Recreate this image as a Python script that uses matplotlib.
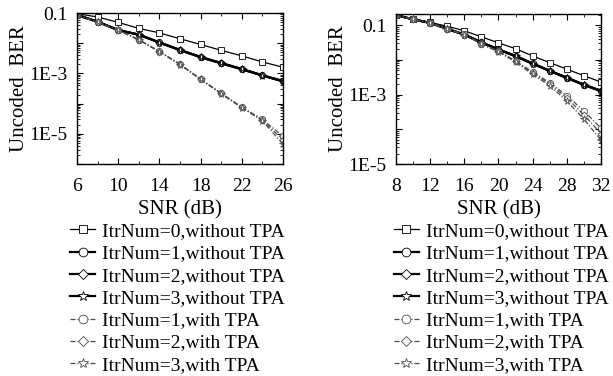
import numpy as np
import matplotlib
matplotlib.use("Agg")
import matplotlib.pyplot as plt
from matplotlib.ticker import LogLocator, FixedLocator, FuncFormatter, NullFormatter

plt.rcParams['font.family'] = ['Liberation Serif', 'DejaVu Serif']
plt.rcParams['font.size'] = 14

labels = ["ItrNum=0,without TPA", "ItrNum=1,without TPA", "ItrNum=2,without TPA",
          "ItrNum=3,without TPA", "ItrNum=1,with TPA", "ItrNum=2,with TPA",
          "ItrNum=3,with TPA"]

# left panel
snr_a = [6, 8, 10, 12, 14, 16, 18, 20, 22, 24, 26]
a_itr0 = [9.5e-2, 7.4e-2, 4.9e-2, 3.1e-2, 2.2e-2, 1.4e-2, 9.1e-3, 5.8e-3, 3.8e-3, 2.4e-3, 1.6e-3]
a_itr1 = [8.7e-2, 5.2e-2, 2.75e-2, 1.9e-2, 1.07e-2, 6.0e-3, 3.5e-3, 2.2e-3, 1.4e-3, 8.7e-4, 5.6e-4]
a_itr2 = [8.6e-2, 5.1e-2, 2.7e-2, 1.95e-2, 1.05e-2, 5.9e-3, 3.5e-3, 2.2e-3, 1.4e-3, 8.6e-4, 5.5e-4]
a_itr3 = [8.6e-2, 5.1e-2, 2.7e-2, 1.9e-2, 1.05e-2, 5.9e-3, 3.4e-3, 2.15e-3, 1.35e-3, 8.5e-4, 5.4e-4]
a_tpa1 = [8.7e-2, 5.0e-2, 2.75e-2, 1.3e-2, 5.4e-3, 2.0e-3, 6.5e-4, 2.2e-4, 7.6e-5, 3.0e-5, 8.3e-6]
a_tpa2 = [8.6e-2, 5.0e-2, 2.7e-2, 1.3e-2, 5.3e-3, 2.0e-3, 6.4e-4, 2.2e-4, 7.5e-5, 2.8e-5, 6.3e-6]
a_tpa3 = [8.6e-2, 4.9e-2, 2.7e-2, 1.28e-2, 5.2e-3, 1.95e-3, 6.3e-4, 2.1e-4, 7.3e-5, 2.7e-5, 4.5e-6]

# right panel
snr_b = [8, 10, 12, 14, 16, 18, 20, 22, 24, 26, 28, 30, 32]
b_itr0 = [1.95e-1, 1.48e-1, 1.2e-1, 9.3e-2, 6.9e-2, 4.6e-2, 3.1e-2, 2.1e-2, 1.3e-2, 8.3e-3, 5.4e-3, 3.5e-3, 2.3e-3]
b_itr1 = [1.95e-1, 1.48e-1, 1.17e-1, 7.9e-2, 5.4e-2, 3.2e-2, 2.0e-2, 1.3e-2, 7.9e-3, 4.9e-3, 3.1e-3, 1.95e-3, 1.3e-3]
b_itr2 = [1.95e-1, 1.47e-1, 1.16e-1, 7.8e-2, 5.3e-2, 3.2e-2, 2.0e-2, 1.28e-2, 7.8e-3, 4.8e-3, 3.05e-3, 1.9e-3, 1.28e-3]
b_itr3 = [1.95e-1, 1.47e-1, 1.16e-1, 7.8e-2, 5.3e-2, 3.15e-2, 1.97e-2, 1.27e-2, 7.7e-3, 4.8e-3, 3.0e-3, 1.9e-3, 1.25e-3]
b_tpa1 = [1.95e-1, 1.48e-1, 1.17e-1, 7.9e-2, 5.4e-2, 2.95e-2, 1.8e-2, 9.3e-3, 4.5e-3, 2.2e-3, 9.3e-4, 3.4e-4, 1.07e-4]
b_tpa2 = [1.95e-1, 1.47e-1, 1.16e-1, 7.8e-2, 5.3e-2, 2.9e-2, 1.75e-2, 9.0e-3, 4.2e-3, 2.0e-3, 8.0e-4, 2.6e-4, 7.5e-5]
b_tpa3 = [1.95e-1, 1.47e-1, 1.16e-1, 7.8e-2, 5.3e-2, 2.85e-2, 1.7e-2, 8.7e-3, 3.8e-3, 1.8e-3, 6.6e-4, 1.95e-4, 4.9e-5]

markers = ['s', 'o', 'D', '*', 'o', 'D', '*']
msizes = [4, 4.5, 3.5, 5.5, 4.5, 3.5, 5.5]
grey = '0.3'


def draw(ax, x, series):
    hs = []
    for i, y in enumerate(series):
        if i == 0:
            kw = dict(color='k', lw=0.9, ls='-', mec='k')
        elif i < 4:
            kw = dict(color='k', lw=1.6, ls='-', mec='k')
        else:
            kw = dict(color=grey, lw=0.9, ls=(0, (4, 1.5, 1, 1.5)), mec=grey)
        h, = ax.plot(x, y, marker=markers[i], ms=msizes[i], mfc='white',
                     mew=0.6, **kw)
        hs.append(h)
    ax.set_yscale('log')
    ax.tick_params(which='both', direction='in', top=True, right=True)
    ax.tick_params(which='major', length=4)
    ax.tick_params(axis='x', which='major', pad=10)
    ax.tick_params(axis='y', which='major', pad=7)
    ax.tick_params(which='minor', length=2)
    ax.yaxis.set_major_locator(LogLocator(base=10, numticks=20))
    ax.yaxis.set_minor_locator(LogLocator(base=10, subs=np.arange(2, 10), numticks=20))
    ax.yaxis.set_minor_formatter(NullFormatter())

    def fmt(v, pos):
        e = int(round(np.log10(v)))
        if e == -1:
            return '0.1'
        if e % 2 != 0:
            return '1E%d' % e
        return ''
    ax.yaxis.set_major_formatter(FuncFormatter(fmt))
    ax.set_xlabel('SNR (dB)', fontsize=15, labelpad=4)
    ax.set_ylabel('Uncoded  BER', fontsize=15, labelpad=0)
    for s in ax.spines.values():
        s.set_linewidth(1.0)
    return hs


fig = plt.figure(figsize=(6.13, 3.76), dpi=100)
ax1 = fig.add_axes([0.1256, 0.5638, 0.3361, 0.4016])
ax2 = fig.add_axes([0.646, 0.5638, 0.3344, 0.399])

h1 = draw(ax1, snr_a, [a_itr0, a_itr1, a_itr2, a_itr3, a_tpa1, a_tpa2, a_tpa3])
ax1.set_xlim(6, 26)
ax1.set_ylim(1e-6, 0.1)
ax1.xaxis.set_major_locator(FixedLocator([6, 10, 14, 18, 22, 26]))
ax1.xaxis.set_minor_locator(FixedLocator([8, 12, 16, 20, 24]))

h2 = draw(ax2, snr_b, [b_itr0, b_itr1, b_itr2, b_itr3, b_tpa1, b_tpa2, b_tpa3])
ax2.set_xlim(8, 32)
ax2.set_ylim(1e-5, 0.21)
ax2.xaxis.set_major_locator(FixedLocator([8, 12, 16, 20, 24, 28, 32]))
ax2.xaxis.set_minor_locator(FixedLocator([10, 14, 18, 22, 26, 30]))

for hs, xpos in [(h1, 0.114), (h2, 0.642)]:
    fig.legend(hs, labels, loc='upper left', bbox_to_anchor=(xpos, 0.408),
               frameon=False, borderpad=0, borderaxespad=0, handlelength=1.3,
               handletextpad=0.35, labelspacing=0.24, fontsize=14,
               markerscale=1.4)

fig.savefig('out.png', dpi=100)
